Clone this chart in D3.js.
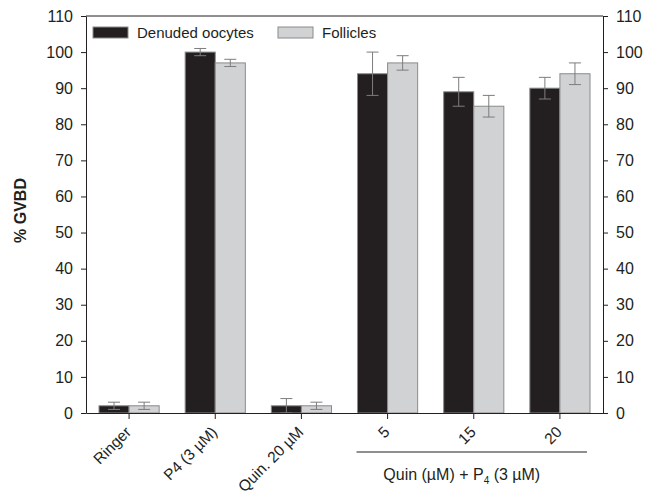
<!DOCTYPE html>
<html>
<head>
<meta charset="utf-8">
<script src="https://cdn.jsdelivr.net/npm/d3@7"></script>
<style>
  body { margin: 0; background: #fff; }
  text { font-family: "Liberation Sans", Arial, sans-serif; fill: #231f20; }
</style>
</head>
<body>
<div id="chart"></div>
<script>
// data
const categories = ['Ringer', 'P4 (3 µM)', 'Quin. 20 µM', '5', '15', '20'];
const seriesNames = ['Denuded oocytes', 'Follicles'];
const oocytes = [2, 100, 2, 94, 89, 90];
const oocytesErr = [1, 1, 2, 6, 4, 3];
const follicles = [2, 97, 2, 97, 85, 94];
const folliclesErr = [1, 1, 1, 2, 3, 3];
const yTicks = [0, 10, 20, 30, 40, 50, 60, 70, 80, 90, 100, 110];
const colors = ['#231f20', '#d1d2d4'];

const W = 646, H = 494;
const margin = { top: 16, right: 43, bottom: 81, left: 86 };
const width = W - margin.left - margin.right;
const height = H - margin.top - margin.bottom;

const svg = d3.select('#chart')
  .append('svg')
  .attr('width', W)
  .attr('height', H)
  .append('g')
  .attr('transform', `translate(${margin.left},${margin.top})`);

const x = d3.scaleBand().domain(categories).range([0, width]).paddingInner(0).paddingOuter(0);
const inner = d3.scaleBand().domain(seriesNames).range([13, x.bandwidth() - 13]);
const y = d3.scaleLinear().domain([0, 110]).range([height, 0]);

const rows = categories.map((c, i) => [
  { cat: c, s: seriesNames[0], v: oocytes[i], e: oocytesErr[i], col: colors[0] },
  { cat: c, s: seriesNames[1], v: follicles[i], e: folliclesErr[i], col: colors[1] },
]).flat();

// bars
svg.selectAll('rect.bar')
  .data(rows)
  .enter()
  .append('rect')
  .attr('class', 'bar')
  .attr('x', (d) => x(d.cat) + inner(d.s))
  .attr('y', (d) => y(d.v))
  .attr('width', inner.bandwidth())
  .attr('height', (d) => height - y(d.v))
  .style('fill', (d) => d.col)
  .style('stroke', '#8a8a8a')
  .style('stroke-width', 1);

// error bars
const errG = svg.selectAll('g.err')
  .data(rows)
  .enter()
  .append('g')
  .attr('class', 'err')
  .attr('transform', (d) => `translate(${x(d.cat) + inner(d.s) + inner.bandwidth() / 2},0)`)
  .style('stroke', '#7d7d7d')
  .style('stroke-width', 1);
errG.append('line')
  .attr('y1', (d) => y(d.v + d.e)).attr('y2', (d) => y(d.v - d.e));
errG.append('line')
  .attr('x1', -6).attr('x2', 6)
  .attr('y1', (d) => y(d.v + d.e)).attr('y2', (d) => y(d.v + d.e));
errG.append('line')
  .attr('x1', -6).attr('x2', 6)
  .attr('y1', (d) => y(d.v - d.e)).attr('y2', (d) => y(d.v - d.e));

// axes
const styleAxis = (g) => {
  g.select('.domain').attr('stroke', '#231f20');
  g.selectAll('.tick line').attr('stroke', '#231f20');
  g.selectAll('text').style('font-size', '16px').attr('fill', '#231f20');
};
svg.append('g')
  .call(d3.axisLeft(y).tickValues(yTicks).tickSize(5).tickSizeOuter(0).tickPadding(8))
  .call(styleAxis);
svg.append('g')
  .attr('transform', `translate(${width},0)`)
  .call(d3.axisRight(y).tickValues(yTicks).tickSize(5).tickSizeOuter(0).tickPadding(8))
  .call(styleAxis);
// top border
svg.append('line')
  .attr('x1', 0).attr('x2', width).attr('y1', 0).attr('y2', 0)
  .attr('stroke', '#231f20');

const xAxis = svg.append('g')
  .attr('transform', `translate(0,${height})`)
  .call(d3.axisBottom(x).tickSize(6).tickSizeOuter(0))
  .call(styleAxis);
xAxis.selectAll('.tick text')
  .style('font-size', '15.5px')
  .attr('text-anchor', 'end')
  .attr('dy', null)
  .attr('y', null)
  .attr('transform', 'translate(3,20) rotate(-45)');

// y label
svg.append('text')
  .attr('transform', `translate(${-60},${height / 2 - 4}) rotate(-90)`)
  .attr('text-anchor', 'middle')
  .style('font-size', '16px')
  .style('font-weight', 'bold')
  .text('% GVBD');

// group bracket below the Quin + P4 categories
svg.append('line')
  .attr('x1', x('5') + 12).attr('x2', x('20') + x.bandwidth() - 16)
  .attr('y1', height + 39).attr('y2', height + 39)
  .attr('stroke', '#231f20');
const grp = svg.append('text')
  .attr('x', x('15') + x.bandwidth() / 2 - 12)
  .attr('y', height + 67)
  .attr('text-anchor', 'middle')
  .style('font-size', '16px');
grp.append('tspan').text('Quin (µM) + P');
grp.append('tspan').attr('dy', 4).style('font-size', '10px').text('4');
grp.append('tspan').attr('dy', -4).text(' (3 µM)');

// legend
const legend = svg.append('g').attr('transform', 'translate(7,11)');
const li = legend.selectAll('g')
  .data(seriesNames)
  .enter()
  .append('g')
  .attr('transform', (d, i) => `translate(${i * 185},0)`);
li.append('rect')
  .attr('width', 35).attr('height', 11)
  .style('fill', (d, i) => colors[i])
  .style('stroke', '#8a8a8a');
li.append('text')
  .attr('x', 44).attr('y', 10.5)
  .style('font-size', '15px')
  .text((d) => d);
</script>
</body>
</html>
